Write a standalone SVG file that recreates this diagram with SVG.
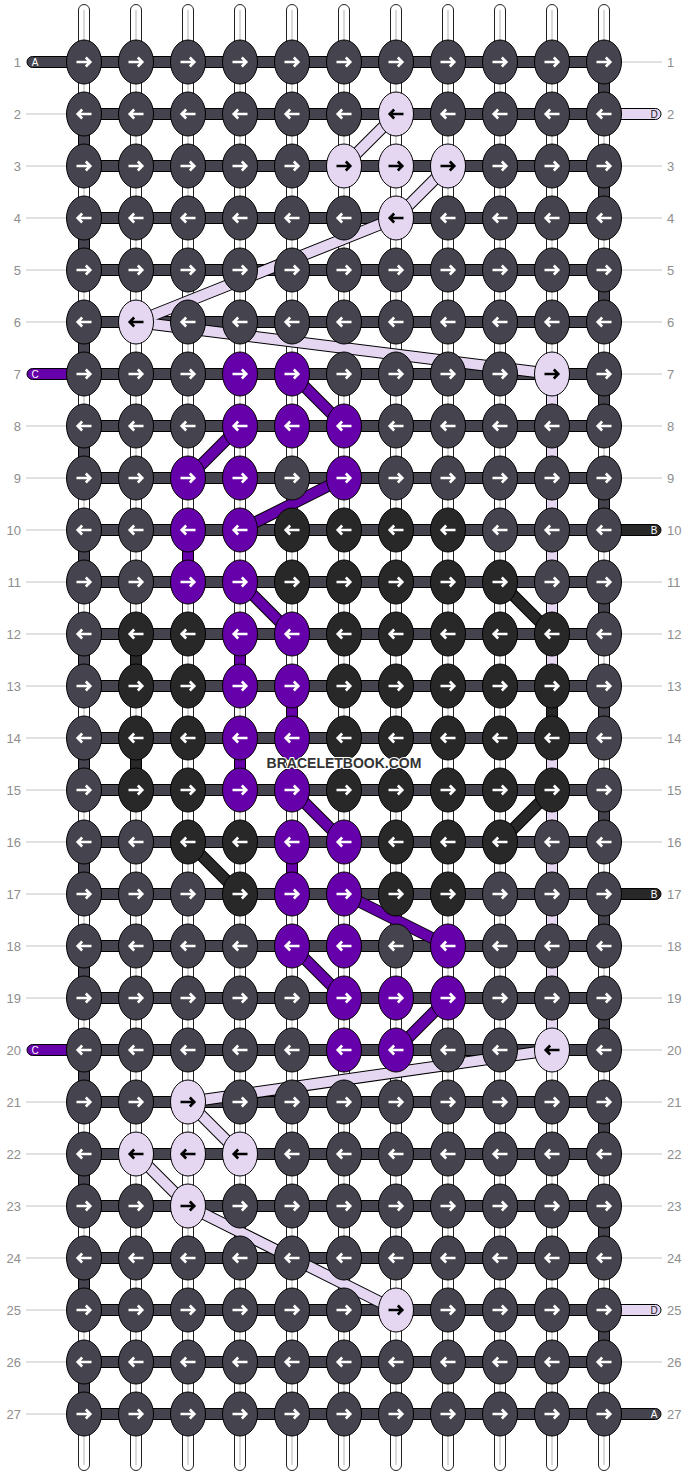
<svg xmlns="http://www.w3.org/2000/svg" xmlns:xlink="http://www.w3.org/1999/xlink" width="688" height="1476" viewBox="0 0 688 1476">
<style>
.a{fill:#45444e}.l{fill:#e5d7f1}.p{fill:#6600aa}.b{fill:#282828}
ellipse{stroke:#000;stroke-width:1}
.str{fill:#fff;stroke:#222;stroke-width:1}
.mid{stroke:#b4b4b4;stroke-width:1}
.seg{stroke:#000;stroke-width:1}
.gl{stroke:#c4c4c4;stroke-width:1}
.lbl{font-family:"Liberation Sans",Arial,sans-serif;font-size:13px;fill:#8e8e8e}
.end{font-family:"Liberation Sans",Arial,sans-serif;font-size:10px;text-anchor:middle}
.bo{stroke:#000;stroke-width:12;stroke-linecap:butt}
.bl{stroke:#e5d7f1;stroke-width:10}
.bp{stroke:#6600aa;stroke-width:10}
.bb{stroke:#282828;stroke-width:10}
.wm{font-family:"Liberation Sans",Arial,sans-serif;font-size:14px;font-weight:bold;fill:#333;stroke:#fff;stroke-width:2;paint-order:stroke;text-anchor:middle}
</style>
<defs>
<path id="R" d="M-7.5 0H6M1.8-4.5L6.3 0L1.8 4.5" fill="none" stroke="#fff" stroke-width="2.6"/>
<path id="L" d="M7.5 0H-6M-1.8-4.5L-6.3 0L-1.8 4.5" fill="none" stroke="#fff" stroke-width="2.6"/>
<path id="Rk" d="M-7.5 0H6M1.8-4.5L6.3 0L1.8 4.5" fill="none" stroke="#000" stroke-width="2.6"/>
<path id="Lk" d="M7.5 0H-6M-1.8-4.5L-6.3 0L-1.8 4.5" fill="none" stroke="#000" stroke-width="2.6"/>
</defs>
<rect width="688" height="1476" fill="#fff"/>
<g id="labels">
<g class="gl">
<line x1="26" y1="114" x2="68" y2="114"/><line x1="26" y1="166" x2="68" y2="166"/><line x1="26" y1="218" x2="68" y2="218"/><line x1="26" y1="270" x2="68" y2="270"/><line x1="26" y1="322" x2="68" y2="322"/><line x1="26" y1="426" x2="68" y2="426"/><line x1="26" y1="478" x2="68" y2="478"/><line x1="26" y1="530" x2="68" y2="530"/><line x1="26" y1="582" x2="68" y2="582"/><line x1="26" y1="634" x2="68" y2="634"/><line x1="26" y1="686" x2="68" y2="686"/><line x1="26" y1="738" x2="68" y2="738"/><line x1="26" y1="790" x2="68" y2="790"/><line x1="26" y1="842" x2="68" y2="842"/><line x1="26" y1="894" x2="68" y2="894"/><line x1="26" y1="946" x2="68" y2="946"/><line x1="26" y1="998" x2="68" y2="998"/><line x1="26" y1="1102" x2="68" y2="1102"/><line x1="26" y1="1154" x2="68" y2="1154"/><line x1="26" y1="1206" x2="68" y2="1206"/><line x1="26" y1="1258" x2="68" y2="1258"/><line x1="26" y1="1310" x2="68" y2="1310"/><line x1="26" y1="1362" x2="68" y2="1362"/><line x1="26" y1="1414" x2="68" y2="1414"/>
<line x1="620" y1="62" x2="662" y2="62"/><line x1="620" y1="166" x2="662" y2="166"/><line x1="620" y1="218" x2="662" y2="218"/><line x1="620" y1="270" x2="662" y2="270"/><line x1="620" y1="322" x2="662" y2="322"/><line x1="620" y1="374" x2="662" y2="374"/><line x1="620" y1="426" x2="662" y2="426"/><line x1="620" y1="478" x2="662" y2="478"/><line x1="620" y1="582" x2="662" y2="582"/><line x1="620" y1="634" x2="662" y2="634"/><line x1="620" y1="686" x2="662" y2="686"/><line x1="620" y1="738" x2="662" y2="738"/><line x1="620" y1="790" x2="662" y2="790"/><line x1="620" y1="842" x2="662" y2="842"/><line x1="620" y1="946" x2="662" y2="946"/><line x1="620" y1="998" x2="662" y2="998"/><line x1="620" y1="1050" x2="662" y2="1050"/><line x1="620" y1="1102" x2="662" y2="1102"/><line x1="620" y1="1154" x2="662" y2="1154"/><line x1="620" y1="1206" x2="662" y2="1206"/><line x1="620" y1="1258" x2="662" y2="1258"/><line x1="620" y1="1362" x2="662" y2="1362"/>
</g>
<g class="lbl" text-anchor="end">
<text x="21" y="66.5">1</text><text x="21" y="118.5">2</text><text x="21" y="170.5">3</text><text x="21" y="222.5">4</text><text x="21" y="274.5">5</text><text x="21" y="326.5">6</text><text x="21" y="378.5">7</text><text x="21" y="430.5">8</text><text x="21" y="482.5">9</text><text x="21" y="534.5">10</text><text x="21" y="586.5">11</text><text x="21" y="638.5">12</text><text x="21" y="690.5">13</text><text x="21" y="742.5">14</text><text x="21" y="794.5">15</text><text x="21" y="846.5">16</text><text x="21" y="898.5">17</text><text x="21" y="950.5">18</text><text x="21" y="1002.5">19</text><text x="21" y="1054.5">20</text><text x="21" y="1106.5">21</text><text x="21" y="1158.5">22</text><text x="21" y="1210.5">23</text><text x="21" y="1262.5">24</text><text x="21" y="1314.5">25</text><text x="21" y="1366.5">26</text><text x="21" y="1418.5">27</text>
</g>
<g class="lbl">
<text x="667" y="66.5">1</text><text x="667" y="118.5">2</text><text x="667" y="170.5">3</text><text x="667" y="222.5">4</text><text x="667" y="274.5">5</text><text x="667" y="326.5">6</text><text x="667" y="378.5">7</text><text x="667" y="430.5">8</text><text x="667" y="482.5">9</text><text x="667" y="534.5">10</text><text x="667" y="586.5">11</text><text x="667" y="638.5">12</text><text x="667" y="690.5">13</text><text x="667" y="742.5">14</text><text x="667" y="794.5">15</text><text x="667" y="846.5">16</text><text x="667" y="898.5">17</text><text x="667" y="950.5">18</text><text x="667" y="1002.5">19</text><text x="667" y="1054.5">20</text><text x="667" y="1106.5">21</text><text x="667" y="1158.5">22</text><text x="667" y="1210.5">23</text><text x="667" y="1262.5">24</text><text x="667" y="1314.5">25</text><text x="667" y="1366.5">26</text><text x="667" y="1418.5">27</text>
</g>
</g>
<g id="connectors">
<g id="strings">
<rect class="str" x="78.5" y="4.5" width="11" height="1466" rx="5.5"/><rect class="str" x="130.5" y="4.5" width="11" height="1466" rx="5.5"/><rect class="str" x="182.5" y="4.5" width="11" height="1466" rx="5.5"/><rect class="str" x="234.5" y="4.5" width="11" height="1466" rx="5.5"/><rect class="str" x="286.5" y="4.5" width="11" height="1466" rx="5.5"/><rect class="str" x="338.5" y="4.5" width="11" height="1466" rx="5.5"/><rect class="str" x="390.5" y="4.5" width="11" height="1466" rx="5.5"/><rect class="str" x="442.5" y="4.5" width="11" height="1466" rx="5.5"/><rect class="str" x="494.5" y="4.5" width="11" height="1466" rx="5.5"/><rect class="str" x="546.5" y="4.5" width="11" height="1466" rx="5.5"/><rect class="str" x="598.5" y="4.5" width="11" height="1466" rx="5.5"/>
<g class="mid"><line x1="84" y1="10" x2="84" y2="1465"/><line x1="136" y1="10" x2="136" y2="1465"/><line x1="188" y1="10" x2="188" y2="1465"/><line x1="240" y1="10" x2="240" y2="1465"/><line x1="292" y1="10" x2="292" y2="1465"/><line x1="344" y1="10" x2="344" y2="1465"/><line x1="396" y1="10" x2="396" y2="1465"/><line x1="448" y1="10" x2="448" y2="1465"/><line x1="500" y1="10" x2="500" y2="1465"/><line x1="552" y1="10" x2="552" y2="1465"/><line x1="604" y1="10" x2="604" y2="1465"/></g>
</g>
<g id="rowthreads" class="seg a">
<rect x="84" y="56.5" width="520" height="11"/><rect x="84" y="108.5" width="520" height="11"/><rect x="84" y="160.5" width="520" height="11"/><rect x="84" y="212.5" width="520" height="11"/><rect x="84" y="264.5" width="520" height="11"/><rect x="84" y="316.5" width="520" height="11"/><rect x="84" y="368.5" width="520" height="11"/><rect x="84" y="420.5" width="520" height="11"/><rect x="84" y="472.5" width="520" height="11"/><rect x="84" y="524.5" width="520" height="11"/><rect x="84" y="576.5" width="520" height="11"/><rect x="84" y="628.5" width="520" height="11"/><rect x="84" y="680.5" width="520" height="11"/><rect x="84" y="732.5" width="520" height="11"/><rect x="84" y="784.5" width="520" height="11"/><rect x="84" y="836.5" width="520" height="11"/><rect x="84" y="888.5" width="520" height="11"/><rect x="84" y="940.5" width="520" height="11"/><rect x="84" y="992.5" width="520" height="11"/><rect x="84" y="1044.5" width="520" height="11"/><rect x="84" y="1096.5" width="520" height="11"/><rect x="84" y="1148.5" width="520" height="11"/><rect x="84" y="1200.5" width="520" height="11"/><rect x="84" y="1252.5" width="520" height="11"/><rect x="84" y="1304.5" width="520" height="11"/><rect x="84" y="1356.5" width="520" height="11"/><rect x="84" y="1408.5" width="520" height="11"/>
</g>
<g id="edges" class="seg a">
<rect x="78.5" y="114" width="11" height="52"/><rect x="78.5" y="218" width="11" height="52"/><rect x="78.5" y="322" width="11" height="52"/><rect x="78.5" y="426" width="11" height="52"/><rect x="78.5" y="530" width="11" height="52"/><rect x="78.5" y="634" width="11" height="52"/><rect x="78.5" y="738" width="11" height="52"/><rect x="78.5" y="842" width="11" height="52"/><rect x="78.5" y="946" width="11" height="52"/><rect x="78.5" y="1050" width="11" height="52"/><rect x="78.5" y="1154" width="11" height="52"/><rect x="78.5" y="1258" width="11" height="52"/><rect x="78.5" y="1362" width="11" height="52"/>
<rect x="598.5" y="62" width="11" height="52"/><rect x="598.5" y="166" width="11" height="52"/><rect x="598.5" y="270" width="11" height="52"/><rect x="598.5" y="374" width="11" height="52"/><rect x="598.5" y="478" width="11" height="52"/><rect x="598.5" y="582" width="11" height="52"/><rect x="598.5" y="686" width="11" height="52"/><rect x="598.5" y="790" width="11" height="52"/><rect x="598.5" y="894" width="11" height="52"/><rect x="598.5" y="998" width="11" height="52"/><rect x="598.5" y="1102" width="11" height="52"/><rect x="598.5" y="1206" width="11" height="52"/><rect x="598.5" y="1310" width="11" height="52"/>
</g>
<g id="carried" class="seg">
<rect class="l" x="546.5" y="374" width="11" height="312"/><rect class="b" x="546.5" y="686" width="11" height="52"/><rect class="l" x="546.5" y="738" width="11" height="312"/>
<rect class="b" x="130.5" y="634" width="11" height="52"/><rect class="b" x="130.5" y="738" width="11" height="52"/>
<rect class="p" x="182.5" y="530" width="11" height="52"/><rect class="p" x="234.5" y="634" width="11" height="52"/><rect class="p" x="234.5" y="738" width="11" height="52"/><rect class="p" x="286.5" y="686" width="11" height="52"/><rect class="p" x="286.5" y="842" width="11" height="52"/>
</g>
<g id="ends" class="seg">
<path class="a" d="M84 56.5H32.5a5.5 5.5 0 0 0 0 11H84Z"/>
<path class="p" d="M84 368.5H32.5a5.5 5.5 0 0 0 0 11H84Z"/>
<path class="p" d="M84 1044.5H32.5a5.5 5.5 0 0 0 0 11H84Z"/>
<path class="l" d="M604 108.5H655.5a5.5 5.5 0 0 1 0 11H604Z"/>
<path class="b" d="M604 524.5H655.5a5.5 5.5 0 0 1 0 11H604Z"/>
<path class="b" d="M604 888.5H655.5a5.5 5.5 0 0 1 0 11H604Z"/>
<path class="l" d="M604 1304.5H655.5a5.5 5.5 0 0 1 0 11H604Z"/>
<path class="a" d="M604 1408.5H655.5a5.5 5.5 0 0 1 0 11H604Z"/>
</g>
<g class="end">
<text x="35" y="65.6" fill="#fff">A</text>
<text x="35" y="377.6" fill="#fff">C</text>
<text x="35" y="1053.6" fill="#fff">C</text>
<text x="654" y="117.6" fill="#222">D</text>
<text x="654" y="533.6" fill="#fff">B</text>
<text x="654" y="897.6" fill="#fff">B</text>
<text x="654" y="1313.6" fill="#222">D</text>
<text x="654" y="1417.6" fill="#fff">A</text>
</g>
<g id="bands">
<g class="bo">
<line x1="396" y1="114" x2="344" y2="166"/><line x1="448" y1="166" x2="396" y2="218"/><line x1="396" y1="218" x2="136" y2="322"/><line x1="136" y1="322" x2="552" y2="374"/><line x1="552" y1="1050" x2="188" y2="1102"/><line x1="188" y1="1102" x2="240" y2="1154"/><line x1="136" y1="1154" x2="188" y2="1206"/><line x1="188" y1="1206" x2="396" y2="1310"/>
<line x1="292" y1="374" x2="344" y2="426"/><line x1="240" y1="426" x2="188" y2="478"/><line x1="344" y1="478" x2="240" y2="530"/><line x1="240" y1="582" x2="292" y2="634"/><line x1="292" y1="790" x2="344" y2="842"/><line x1="344" y1="894" x2="448" y2="946"/><line x1="292" y1="946" x2="344" y2="998"/><line x1="448" y1="998" x2="396" y2="1050"/>
<line x1="500" y1="582" x2="552" y2="634"/><line x1="552" y1="790" x2="500" y2="842"/><line x1="188" y1="842" x2="240" y2="894"/>
</g>
<g class="bl">
<line x1="396" y1="114" x2="344" y2="166"/><line x1="448" y1="166" x2="396" y2="218"/><line x1="396" y1="218" x2="136" y2="322"/><line x1="136" y1="322" x2="552" y2="374"/><line x1="552" y1="1050" x2="188" y2="1102"/><line x1="188" y1="1102" x2="240" y2="1154"/><line x1="136" y1="1154" x2="188" y2="1206"/><line x1="188" y1="1206" x2="396" y2="1310"/>
</g>
<g class="bp">
<line x1="292" y1="374" x2="344" y2="426"/><line x1="240" y1="426" x2="188" y2="478"/><line x1="344" y1="478" x2="240" y2="530"/><line x1="240" y1="582" x2="292" y2="634"/><line x1="292" y1="790" x2="344" y2="842"/><line x1="344" y1="894" x2="448" y2="946"/><line x1="292" y1="946" x2="344" y2="998"/><line x1="448" y1="998" x2="396" y2="1050"/>
</g>
<g class="bb">
<line x1="500" y1="582" x2="552" y2="634"/><line x1="552" y1="790" x2="500" y2="842"/><line x1="188" y1="842" x2="240" y2="894"/>
</g>
</g>
</g>
<g id="knots">
<g id="row1" transform="translate(0,62)">
<g id="n1-1"><ellipse class="a" cx="84" rx="17.5" ry="22"/><use href="#R" x="84"/></g><g id="n1-2"><ellipse class="a" cx="136" rx="17.5" ry="22"/><use href="#R" x="136"/></g><g id="n1-3"><ellipse class="a" cx="188" rx="17.5" ry="22"/><use href="#R" x="188"/></g><g id="n1-4"><ellipse class="a" cx="240" rx="17.5" ry="22"/><use href="#R" x="240"/></g><g id="n1-5"><ellipse class="a" cx="292" rx="17.5" ry="22"/><use href="#R" x="292"/></g><g id="n1-6"><ellipse class="a" cx="344" rx="17.5" ry="22"/><use href="#R" x="344"/></g><g id="n1-7"><ellipse class="a" cx="396" rx="17.5" ry="22"/><use href="#R" x="396"/></g><g id="n1-8"><ellipse class="a" cx="448" rx="17.5" ry="22"/><use href="#R" x="448"/></g><g id="n1-9"><ellipse class="a" cx="500" rx="17.5" ry="22"/><use href="#R" x="500"/></g><g id="n1-10"><ellipse class="a" cx="552" rx="17.5" ry="22"/><use href="#R" x="552"/></g><g id="n1-11"><ellipse class="a" cx="604" rx="17.5" ry="22"/><use href="#R" x="604"/></g>
</g>
<g id="row2" transform="translate(0,114)">
<g id="n2-1"><ellipse class="a" cx="84" rx="17.5" ry="22"/><use href="#L" x="84"/></g><g id="n2-2"><ellipse class="a" cx="136" rx="17.5" ry="22"/><use href="#L" x="136"/></g><g id="n2-3"><ellipse class="a" cx="188" rx="17.5" ry="22"/><use href="#L" x="188"/></g><g id="n2-4"><ellipse class="a" cx="240" rx="17.5" ry="22"/><use href="#L" x="240"/></g><g id="n2-5"><ellipse class="a" cx="292" rx="17.5" ry="22"/><use href="#L" x="292"/></g><g id="n2-6"><ellipse class="a" cx="344" rx="17.5" ry="22"/><use href="#L" x="344"/></g><g id="n2-7"><ellipse class="l" cx="396" rx="17.5" ry="22"/><use href="#Lk" x="396"/></g><g id="n2-8"><ellipse class="a" cx="448" rx="17.5" ry="22"/><use href="#L" x="448"/></g><g id="n2-9"><ellipse class="a" cx="500" rx="17.5" ry="22"/><use href="#L" x="500"/></g><g id="n2-10"><ellipse class="a" cx="552" rx="17.5" ry="22"/><use href="#L" x="552"/></g><g id="n2-11"><ellipse class="a" cx="604" rx="17.5" ry="22"/><use href="#L" x="604"/></g>
</g>
<g id="row3" transform="translate(0,166)">
<g id="n3-1"><ellipse class="a" cx="84" rx="17.5" ry="22"/><use href="#R" x="84"/></g><g id="n3-2"><ellipse class="a" cx="136" rx="17.5" ry="22"/><use href="#R" x="136"/></g><g id="n3-3"><ellipse class="a" cx="188" rx="17.5" ry="22"/><use href="#R" x="188"/></g><g id="n3-4"><ellipse class="a" cx="240" rx="17.5" ry="22"/><use href="#R" x="240"/></g><g id="n3-5"><ellipse class="a" cx="292" rx="17.5" ry="22"/><use href="#R" x="292"/></g><g id="n3-6"><ellipse class="l" cx="344" rx="17.5" ry="22"/><use href="#Rk" x="344"/></g><g id="n3-7"><ellipse class="l" cx="396" rx="17.5" ry="22"/><use href="#Rk" x="396"/></g><g id="n3-8"><ellipse class="l" cx="448" rx="17.5" ry="22"/><use href="#Rk" x="448"/></g><g id="n3-9"><ellipse class="a" cx="500" rx="17.5" ry="22"/><use href="#R" x="500"/></g><g id="n3-10"><ellipse class="a" cx="552" rx="17.5" ry="22"/><use href="#R" x="552"/></g><g id="n3-11"><ellipse class="a" cx="604" rx="17.5" ry="22"/><use href="#R" x="604"/></g>
</g>
<g id="row4" transform="translate(0,218)">
<g id="n4-1"><ellipse class="a" cx="84" rx="17.5" ry="22"/><use href="#L" x="84"/></g><g id="n4-2"><ellipse class="a" cx="136" rx="17.5" ry="22"/><use href="#L" x="136"/></g><g id="n4-3"><ellipse class="a" cx="188" rx="17.5" ry="22"/><use href="#L" x="188"/></g><g id="n4-4"><ellipse class="a" cx="240" rx="17.5" ry="22"/><use href="#L" x="240"/></g><g id="n4-5"><ellipse class="a" cx="292" rx="17.5" ry="22"/><use href="#L" x="292"/></g><g id="n4-6"><ellipse class="a" cx="344" rx="17.5" ry="22"/><use href="#L" x="344"/></g><g id="n4-7"><ellipse class="l" cx="396" rx="17.5" ry="22"/><use href="#Lk" x="396"/></g><g id="n4-8"><ellipse class="a" cx="448" rx="17.5" ry="22"/><use href="#L" x="448"/></g><g id="n4-9"><ellipse class="a" cx="500" rx="17.5" ry="22"/><use href="#L" x="500"/></g><g id="n4-10"><ellipse class="a" cx="552" rx="17.5" ry="22"/><use href="#L" x="552"/></g><g id="n4-11"><ellipse class="a" cx="604" rx="17.5" ry="22"/><use href="#L" x="604"/></g>
</g>
<g id="row5" transform="translate(0,270)">
<g id="n5-1"><ellipse class="a" cx="84" rx="17.5" ry="22"/><use href="#R" x="84"/></g><g id="n5-2"><ellipse class="a" cx="136" rx="17.5" ry="22"/><use href="#R" x="136"/></g><g id="n5-3"><ellipse class="a" cx="188" rx="17.5" ry="22"/><use href="#R" x="188"/></g><g id="n5-4"><ellipse class="a" cx="240" rx="17.5" ry="22"/><use href="#R" x="240"/></g><g id="n5-5"><ellipse class="a" cx="292" rx="17.5" ry="22"/><use href="#R" x="292"/></g><g id="n5-6"><ellipse class="a" cx="344" rx="17.5" ry="22"/><use href="#R" x="344"/></g><g id="n5-7"><ellipse class="a" cx="396" rx="17.5" ry="22"/><use href="#R" x="396"/></g><g id="n5-8"><ellipse class="a" cx="448" rx="17.5" ry="22"/><use href="#R" x="448"/></g><g id="n5-9"><ellipse class="a" cx="500" rx="17.5" ry="22"/><use href="#R" x="500"/></g><g id="n5-10"><ellipse class="a" cx="552" rx="17.5" ry="22"/><use href="#R" x="552"/></g><g id="n5-11"><ellipse class="a" cx="604" rx="17.5" ry="22"/><use href="#R" x="604"/></g>
</g>
<g id="row6" transform="translate(0,322)">
<g id="n6-1"><ellipse class="a" cx="84" rx="17.5" ry="22"/><use href="#L" x="84"/></g><g id="n6-2"><ellipse class="l" cx="136" rx="17.5" ry="22"/><use href="#Lk" x="136"/></g><g id="n6-3"><ellipse class="a" cx="188" rx="17.5" ry="22"/><use href="#L" x="188"/></g><g id="n6-4"><ellipse class="a" cx="240" rx="17.5" ry="22"/><use href="#L" x="240"/></g><g id="n6-5"><ellipse class="a" cx="292" rx="17.5" ry="22"/><use href="#L" x="292"/></g><g id="n6-6"><ellipse class="a" cx="344" rx="17.5" ry="22"/><use href="#L" x="344"/></g><g id="n6-7"><ellipse class="a" cx="396" rx="17.5" ry="22"/><use href="#L" x="396"/></g><g id="n6-8"><ellipse class="a" cx="448" rx="17.5" ry="22"/><use href="#L" x="448"/></g><g id="n6-9"><ellipse class="a" cx="500" rx="17.5" ry="22"/><use href="#L" x="500"/></g><g id="n6-10"><ellipse class="a" cx="552" rx="17.5" ry="22"/><use href="#L" x="552"/></g><g id="n6-11"><ellipse class="a" cx="604" rx="17.5" ry="22"/><use href="#L" x="604"/></g>
</g>
<g id="row7" transform="translate(0,374)">
<g id="n7-1"><ellipse class="a" cx="84" rx="17.5" ry="22"/><use href="#R" x="84"/></g><g id="n7-2"><ellipse class="a" cx="136" rx="17.5" ry="22"/><use href="#R" x="136"/></g><g id="n7-3"><ellipse class="a" cx="188" rx="17.5" ry="22"/><use href="#R" x="188"/></g><g id="n7-4"><ellipse class="p" cx="240" rx="17.5" ry="22"/><use href="#R" x="240"/></g><g id="n7-5"><ellipse class="p" cx="292" rx="17.5" ry="22"/><use href="#R" x="292"/></g><g id="n7-6"><ellipse class="a" cx="344" rx="17.5" ry="22"/><use href="#R" x="344"/></g><g id="n7-7"><ellipse class="a" cx="396" rx="17.5" ry="22"/><use href="#R" x="396"/></g><g id="n7-8"><ellipse class="a" cx="448" rx="17.5" ry="22"/><use href="#R" x="448"/></g><g id="n7-9"><ellipse class="a" cx="500" rx="17.5" ry="22"/><use href="#R" x="500"/></g><g id="n7-10"><ellipse class="l" cx="552" rx="17.5" ry="22"/><use href="#Rk" x="552"/></g><g id="n7-11"><ellipse class="a" cx="604" rx="17.5" ry="22"/><use href="#R" x="604"/></g>
</g>
<g id="row8" transform="translate(0,426)">
<g id="n8-1"><ellipse class="a" cx="84" rx="17.5" ry="22"/><use href="#L" x="84"/></g><g id="n8-2"><ellipse class="a" cx="136" rx="17.5" ry="22"/><use href="#L" x="136"/></g><g id="n8-3"><ellipse class="a" cx="188" rx="17.5" ry="22"/><use href="#L" x="188"/></g><g id="n8-4"><ellipse class="p" cx="240" rx="17.5" ry="22"/><use href="#L" x="240"/></g><g id="n8-5"><ellipse class="p" cx="292" rx="17.5" ry="22"/><use href="#L" x="292"/></g><g id="n8-6"><ellipse class="p" cx="344" rx="17.5" ry="22"/><use href="#L" x="344"/></g><g id="n8-7"><ellipse class="a" cx="396" rx="17.5" ry="22"/><use href="#L" x="396"/></g><g id="n8-8"><ellipse class="a" cx="448" rx="17.5" ry="22"/><use href="#L" x="448"/></g><g id="n8-9"><ellipse class="a" cx="500" rx="17.5" ry="22"/><use href="#L" x="500"/></g><g id="n8-10"><ellipse class="a" cx="552" rx="17.5" ry="22"/><use href="#L" x="552"/></g><g id="n8-11"><ellipse class="a" cx="604" rx="17.5" ry="22"/><use href="#L" x="604"/></g>
</g>
<g id="row9" transform="translate(0,478)">
<g id="n9-1"><ellipse class="a" cx="84" rx="17.5" ry="22"/><use href="#R" x="84"/></g><g id="n9-2"><ellipse class="a" cx="136" rx="17.5" ry="22"/><use href="#R" x="136"/></g><g id="n9-3"><ellipse class="p" cx="188" rx="17.5" ry="22"/><use href="#R" x="188"/></g><g id="n9-4"><ellipse class="p" cx="240" rx="17.5" ry="22"/><use href="#R" x="240"/></g><g id="n9-5"><ellipse class="a" cx="292" rx="17.5" ry="22"/><use href="#R" x="292"/></g><g id="n9-6"><ellipse class="p" cx="344" rx="17.5" ry="22"/><use href="#R" x="344"/></g><g id="n9-7"><ellipse class="a" cx="396" rx="17.5" ry="22"/><use href="#R" x="396"/></g><g id="n9-8"><ellipse class="a" cx="448" rx="17.5" ry="22"/><use href="#R" x="448"/></g><g id="n9-9"><ellipse class="a" cx="500" rx="17.5" ry="22"/><use href="#R" x="500"/></g><g id="n9-10"><ellipse class="a" cx="552" rx="17.5" ry="22"/><use href="#R" x="552"/></g><g id="n9-11"><ellipse class="a" cx="604" rx="17.5" ry="22"/><use href="#R" x="604"/></g>
</g>
<g id="row10" transform="translate(0,530)">
<g id="n10-1"><ellipse class="a" cx="84" rx="17.5" ry="22"/><use href="#L" x="84"/></g><g id="n10-2"><ellipse class="a" cx="136" rx="17.5" ry="22"/><use href="#L" x="136"/></g><g id="n10-3"><ellipse class="p" cx="188" rx="17.5" ry="22"/><use href="#L" x="188"/></g><g id="n10-4"><ellipse class="p" cx="240" rx="17.5" ry="22"/><use href="#L" x="240"/></g><g id="n10-5"><ellipse class="b" cx="292" rx="17.5" ry="22"/><use href="#L" x="292"/></g><g id="n10-6"><ellipse class="b" cx="344" rx="17.5" ry="22"/><use href="#L" x="344"/></g><g id="n10-7"><ellipse class="b" cx="396" rx="17.5" ry="22"/><use href="#L" x="396"/></g><g id="n10-8"><ellipse class="b" cx="448" rx="17.5" ry="22"/><use href="#L" x="448"/></g><g id="n10-9"><ellipse class="a" cx="500" rx="17.5" ry="22"/><use href="#L" x="500"/></g><g id="n10-10"><ellipse class="a" cx="552" rx="17.5" ry="22"/><use href="#L" x="552"/></g><g id="n10-11"><ellipse class="a" cx="604" rx="17.5" ry="22"/><use href="#L" x="604"/></g>
</g>
<g id="row11" transform="translate(0,582)">
<g id="n11-1"><ellipse class="a" cx="84" rx="17.5" ry="22"/><use href="#R" x="84"/></g><g id="n11-2"><ellipse class="a" cx="136" rx="17.5" ry="22"/><use href="#R" x="136"/></g><g id="n11-3"><ellipse class="p" cx="188" rx="17.5" ry="22"/><use href="#R" x="188"/></g><g id="n11-4"><ellipse class="p" cx="240" rx="17.5" ry="22"/><use href="#R" x="240"/></g><g id="n11-5"><ellipse class="b" cx="292" rx="17.5" ry="22"/><use href="#R" x="292"/></g><g id="n11-6"><ellipse class="b" cx="344" rx="17.5" ry="22"/><use href="#R" x="344"/></g><g id="n11-7"><ellipse class="b" cx="396" rx="17.5" ry="22"/><use href="#R" x="396"/></g><g id="n11-8"><ellipse class="b" cx="448" rx="17.5" ry="22"/><use href="#R" x="448"/></g><g id="n11-9"><ellipse class="b" cx="500" rx="17.5" ry="22"/><use href="#R" x="500"/></g><g id="n11-10"><ellipse class="a" cx="552" rx="17.5" ry="22"/><use href="#R" x="552"/></g><g id="n11-11"><ellipse class="a" cx="604" rx="17.5" ry="22"/><use href="#R" x="604"/></g>
</g>
<g id="row12" transform="translate(0,634)">
<g id="n12-1"><ellipse class="a" cx="84" rx="17.5" ry="22"/><use href="#L" x="84"/></g><g id="n12-2"><ellipse class="b" cx="136" rx="17.5" ry="22"/><use href="#L" x="136"/></g><g id="n12-3"><ellipse class="b" cx="188" rx="17.5" ry="22"/><use href="#L" x="188"/></g><g id="n12-4"><ellipse class="p" cx="240" rx="17.5" ry="22"/><use href="#L" x="240"/></g><g id="n12-5"><ellipse class="p" cx="292" rx="17.5" ry="22"/><use href="#L" x="292"/></g><g id="n12-6"><ellipse class="b" cx="344" rx="17.5" ry="22"/><use href="#L" x="344"/></g><g id="n12-7"><ellipse class="b" cx="396" rx="17.5" ry="22"/><use href="#L" x="396"/></g><g id="n12-8"><ellipse class="b" cx="448" rx="17.5" ry="22"/><use href="#L" x="448"/></g><g id="n12-9"><ellipse class="b" cx="500" rx="17.5" ry="22"/><use href="#L" x="500"/></g><g id="n12-10"><ellipse class="b" cx="552" rx="17.5" ry="22"/><use href="#L" x="552"/></g><g id="n12-11"><ellipse class="a" cx="604" rx="17.5" ry="22"/><use href="#L" x="604"/></g>
</g>
<g id="row13" transform="translate(0,686)">
<g id="n13-1"><ellipse class="a" cx="84" rx="17.5" ry="22"/><use href="#R" x="84"/></g><g id="n13-2"><ellipse class="b" cx="136" rx="17.5" ry="22"/><use href="#R" x="136"/></g><g id="n13-3"><ellipse class="b" cx="188" rx="17.5" ry="22"/><use href="#R" x="188"/></g><g id="n13-4"><ellipse class="p" cx="240" rx="17.5" ry="22"/><use href="#R" x="240"/></g><g id="n13-5"><ellipse class="p" cx="292" rx="17.5" ry="22"/><use href="#R" x="292"/></g><g id="n13-6"><ellipse class="b" cx="344" rx="17.5" ry="22"/><use href="#R" x="344"/></g><g id="n13-7"><ellipse class="b" cx="396" rx="17.5" ry="22"/><use href="#R" x="396"/></g><g id="n13-8"><ellipse class="b" cx="448" rx="17.5" ry="22"/><use href="#R" x="448"/></g><g id="n13-9"><ellipse class="b" cx="500" rx="17.5" ry="22"/><use href="#R" x="500"/></g><g id="n13-10"><ellipse class="b" cx="552" rx="17.5" ry="22"/><use href="#R" x="552"/></g><g id="n13-11"><ellipse class="a" cx="604" rx="17.5" ry="22"/><use href="#R" x="604"/></g>
</g>
<g id="row14" transform="translate(0,738)">
<g id="n14-1"><ellipse class="a" cx="84" rx="17.5" ry="22"/><use href="#L" x="84"/></g><g id="n14-2"><ellipse class="b" cx="136" rx="17.5" ry="22"/><use href="#L" x="136"/></g><g id="n14-3"><ellipse class="b" cx="188" rx="17.5" ry="22"/><use href="#L" x="188"/></g><g id="n14-4"><ellipse class="p" cx="240" rx="17.5" ry="22"/><use href="#L" x="240"/></g><g id="n14-5"><ellipse class="p" cx="292" rx="17.5" ry="22"/><use href="#L" x="292"/></g><g id="n14-6"><ellipse class="b" cx="344" rx="17.5" ry="22"/><use href="#L" x="344"/></g><g id="n14-7"><ellipse class="b" cx="396" rx="17.5" ry="22"/><use href="#L" x="396"/></g><g id="n14-8"><ellipse class="b" cx="448" rx="17.5" ry="22"/><use href="#L" x="448"/></g><g id="n14-9"><ellipse class="b" cx="500" rx="17.5" ry="22"/><use href="#L" x="500"/></g><g id="n14-10"><ellipse class="b" cx="552" rx="17.5" ry="22"/><use href="#L" x="552"/></g><g id="n14-11"><ellipse class="a" cx="604" rx="17.5" ry="22"/><use href="#L" x="604"/></g>
</g>
<g id="row15" transform="translate(0,790)">
<g id="n15-1"><ellipse class="a" cx="84" rx="17.5" ry="22"/><use href="#R" x="84"/></g><g id="n15-2"><ellipse class="b" cx="136" rx="17.5" ry="22"/><use href="#R" x="136"/></g><g id="n15-3"><ellipse class="b" cx="188" rx="17.5" ry="22"/><use href="#R" x="188"/></g><g id="n15-4"><ellipse class="p" cx="240" rx="17.5" ry="22"/><use href="#R" x="240"/></g><g id="n15-5"><ellipse class="p" cx="292" rx="17.5" ry="22"/><use href="#R" x="292"/></g><g id="n15-6"><ellipse class="b" cx="344" rx="17.5" ry="22"/><use href="#R" x="344"/></g><g id="n15-7"><ellipse class="b" cx="396" rx="17.5" ry="22"/><use href="#R" x="396"/></g><g id="n15-8"><ellipse class="b" cx="448" rx="17.5" ry="22"/><use href="#R" x="448"/></g><g id="n15-9"><ellipse class="b" cx="500" rx="17.5" ry="22"/><use href="#R" x="500"/></g><g id="n15-10"><ellipse class="b" cx="552" rx="17.5" ry="22"/><use href="#R" x="552"/></g><g id="n15-11"><ellipse class="a" cx="604" rx="17.5" ry="22"/><use href="#R" x="604"/></g>
</g>
<g id="row16" transform="translate(0,842)">
<g id="n16-1"><ellipse class="a" cx="84" rx="17.5" ry="22"/><use href="#L" x="84"/></g><g id="n16-2"><ellipse class="a" cx="136" rx="17.5" ry="22"/><use href="#L" x="136"/></g><g id="n16-3"><ellipse class="b" cx="188" rx="17.5" ry="22"/><use href="#L" x="188"/></g><g id="n16-4"><ellipse class="b" cx="240" rx="17.5" ry="22"/><use href="#L" x="240"/></g><g id="n16-5"><ellipse class="p" cx="292" rx="17.5" ry="22"/><use href="#L" x="292"/></g><g id="n16-6"><ellipse class="p" cx="344" rx="17.5" ry="22"/><use href="#L" x="344"/></g><g id="n16-7"><ellipse class="b" cx="396" rx="17.5" ry="22"/><use href="#L" x="396"/></g><g id="n16-8"><ellipse class="b" cx="448" rx="17.5" ry="22"/><use href="#L" x="448"/></g><g id="n16-9"><ellipse class="b" cx="500" rx="17.5" ry="22"/><use href="#L" x="500"/></g><g id="n16-10"><ellipse class="a" cx="552" rx="17.5" ry="22"/><use href="#L" x="552"/></g><g id="n16-11"><ellipse class="a" cx="604" rx="17.5" ry="22"/><use href="#L" x="604"/></g>
</g>
<g id="row17" transform="translate(0,894)">
<g id="n17-1"><ellipse class="a" cx="84" rx="17.5" ry="22"/><use href="#R" x="84"/></g><g id="n17-2"><ellipse class="a" cx="136" rx="17.5" ry="22"/><use href="#R" x="136"/></g><g id="n17-3"><ellipse class="a" cx="188" rx="17.5" ry="22"/><use href="#R" x="188"/></g><g id="n17-4"><ellipse class="b" cx="240" rx="17.5" ry="22"/><use href="#R" x="240"/></g><g id="n17-5"><ellipse class="p" cx="292" rx="17.5" ry="22"/><use href="#R" x="292"/></g><g id="n17-6"><ellipse class="p" cx="344" rx="17.5" ry="22"/><use href="#R" x="344"/></g><g id="n17-7"><ellipse class="b" cx="396" rx="17.5" ry="22"/><use href="#R" x="396"/></g><g id="n17-8"><ellipse class="b" cx="448" rx="17.5" ry="22"/><use href="#R" x="448"/></g><g id="n17-9"><ellipse class="a" cx="500" rx="17.5" ry="22"/><use href="#R" x="500"/></g><g id="n17-10"><ellipse class="a" cx="552" rx="17.5" ry="22"/><use href="#R" x="552"/></g><g id="n17-11"><ellipse class="a" cx="604" rx="17.5" ry="22"/><use href="#R" x="604"/></g>
</g>
<g id="row18" transform="translate(0,946)">
<g id="n18-1"><ellipse class="a" cx="84" rx="17.5" ry="22"/><use href="#L" x="84"/></g><g id="n18-2"><ellipse class="a" cx="136" rx="17.5" ry="22"/><use href="#L" x="136"/></g><g id="n18-3"><ellipse class="a" cx="188" rx="17.5" ry="22"/><use href="#L" x="188"/></g><g id="n18-4"><ellipse class="a" cx="240" rx="17.5" ry="22"/><use href="#L" x="240"/></g><g id="n18-5"><ellipse class="p" cx="292" rx="17.5" ry="22"/><use href="#L" x="292"/></g><g id="n18-6"><ellipse class="p" cx="344" rx="17.5" ry="22"/><use href="#L" x="344"/></g><g id="n18-7"><ellipse class="a" cx="396" rx="17.5" ry="22"/><use href="#L" x="396"/></g><g id="n18-8"><ellipse class="p" cx="448" rx="17.5" ry="22"/><use href="#L" x="448"/></g><g id="n18-9"><ellipse class="a" cx="500" rx="17.5" ry="22"/><use href="#L" x="500"/></g><g id="n18-10"><ellipse class="a" cx="552" rx="17.5" ry="22"/><use href="#L" x="552"/></g><g id="n18-11"><ellipse class="a" cx="604" rx="17.5" ry="22"/><use href="#L" x="604"/></g>
</g>
<g id="row19" transform="translate(0,998)">
<g id="n19-1"><ellipse class="a" cx="84" rx="17.5" ry="22"/><use href="#R" x="84"/></g><g id="n19-2"><ellipse class="a" cx="136" rx="17.5" ry="22"/><use href="#R" x="136"/></g><g id="n19-3"><ellipse class="a" cx="188" rx="17.5" ry="22"/><use href="#R" x="188"/></g><g id="n19-4"><ellipse class="a" cx="240" rx="17.5" ry="22"/><use href="#R" x="240"/></g><g id="n19-5"><ellipse class="a" cx="292" rx="17.5" ry="22"/><use href="#R" x="292"/></g><g id="n19-6"><ellipse class="p" cx="344" rx="17.5" ry="22"/><use href="#R" x="344"/></g><g id="n19-7"><ellipse class="p" cx="396" rx="17.5" ry="22"/><use href="#R" x="396"/></g><g id="n19-8"><ellipse class="p" cx="448" rx="17.5" ry="22"/><use href="#R" x="448"/></g><g id="n19-9"><ellipse class="a" cx="500" rx="17.5" ry="22"/><use href="#R" x="500"/></g><g id="n19-10"><ellipse class="a" cx="552" rx="17.5" ry="22"/><use href="#R" x="552"/></g><g id="n19-11"><ellipse class="a" cx="604" rx="17.5" ry="22"/><use href="#R" x="604"/></g>
</g>
<g id="row20" transform="translate(0,1050)">
<g id="n20-1"><ellipse class="a" cx="84" rx="17.5" ry="22"/><use href="#L" x="84"/></g><g id="n20-2"><ellipse class="a" cx="136" rx="17.5" ry="22"/><use href="#L" x="136"/></g><g id="n20-3"><ellipse class="a" cx="188" rx="17.5" ry="22"/><use href="#L" x="188"/></g><g id="n20-4"><ellipse class="a" cx="240" rx="17.5" ry="22"/><use href="#L" x="240"/></g><g id="n20-5"><ellipse class="a" cx="292" rx="17.5" ry="22"/><use href="#L" x="292"/></g><g id="n20-6"><ellipse class="p" cx="344" rx="17.5" ry="22"/><use href="#L" x="344"/></g><g id="n20-7"><ellipse class="p" cx="396" rx="17.5" ry="22"/><use href="#L" x="396"/></g><g id="n20-8"><ellipse class="a" cx="448" rx="17.5" ry="22"/><use href="#L" x="448"/></g><g id="n20-9"><ellipse class="a" cx="500" rx="17.5" ry="22"/><use href="#L" x="500"/></g><g id="n20-10"><ellipse class="l" cx="552" rx="17.5" ry="22"/><use href="#Lk" x="552"/></g><g id="n20-11"><ellipse class="a" cx="604" rx="17.5" ry="22"/><use href="#L" x="604"/></g>
</g>
<g id="row21" transform="translate(0,1102)">
<g id="n21-1"><ellipse class="a" cx="84" rx="17.5" ry="22"/><use href="#R" x="84"/></g><g id="n21-2"><ellipse class="a" cx="136" rx="17.5" ry="22"/><use href="#R" x="136"/></g><g id="n21-3"><ellipse class="l" cx="188" rx="17.5" ry="22"/><use href="#Rk" x="188"/></g><g id="n21-4"><ellipse class="a" cx="240" rx="17.5" ry="22"/><use href="#R" x="240"/></g><g id="n21-5"><ellipse class="a" cx="292" rx="17.5" ry="22"/><use href="#R" x="292"/></g><g id="n21-6"><ellipse class="a" cx="344" rx="17.5" ry="22"/><use href="#R" x="344"/></g><g id="n21-7"><ellipse class="a" cx="396" rx="17.5" ry="22"/><use href="#R" x="396"/></g><g id="n21-8"><ellipse class="a" cx="448" rx="17.5" ry="22"/><use href="#R" x="448"/></g><g id="n21-9"><ellipse class="a" cx="500" rx="17.5" ry="22"/><use href="#R" x="500"/></g><g id="n21-10"><ellipse class="a" cx="552" rx="17.5" ry="22"/><use href="#R" x="552"/></g><g id="n21-11"><ellipse class="a" cx="604" rx="17.5" ry="22"/><use href="#R" x="604"/></g>
</g>
<g id="row22" transform="translate(0,1154)">
<g id="n22-1"><ellipse class="a" cx="84" rx="17.5" ry="22"/><use href="#L" x="84"/></g><g id="n22-2"><ellipse class="l" cx="136" rx="17.5" ry="22"/><use href="#Lk" x="136"/></g><g id="n22-3"><ellipse class="l" cx="188" rx="17.5" ry="22"/><use href="#Lk" x="188"/></g><g id="n22-4"><ellipse class="l" cx="240" rx="17.5" ry="22"/><use href="#Lk" x="240"/></g><g id="n22-5"><ellipse class="a" cx="292" rx="17.5" ry="22"/><use href="#L" x="292"/></g><g id="n22-6"><ellipse class="a" cx="344" rx="17.5" ry="22"/><use href="#L" x="344"/></g><g id="n22-7"><ellipse class="a" cx="396" rx="17.5" ry="22"/><use href="#L" x="396"/></g><g id="n22-8"><ellipse class="a" cx="448" rx="17.5" ry="22"/><use href="#L" x="448"/></g><g id="n22-9"><ellipse class="a" cx="500" rx="17.5" ry="22"/><use href="#L" x="500"/></g><g id="n22-10"><ellipse class="a" cx="552" rx="17.5" ry="22"/><use href="#L" x="552"/></g><g id="n22-11"><ellipse class="a" cx="604" rx="17.5" ry="22"/><use href="#L" x="604"/></g>
</g>
<g id="row23" transform="translate(0,1206)">
<g id="n23-1"><ellipse class="a" cx="84" rx="17.5" ry="22"/><use href="#R" x="84"/></g><g id="n23-2"><ellipse class="a" cx="136" rx="17.5" ry="22"/><use href="#R" x="136"/></g><g id="n23-3"><ellipse class="l" cx="188" rx="17.5" ry="22"/><use href="#Rk" x="188"/></g><g id="n23-4"><ellipse class="a" cx="240" rx="17.5" ry="22"/><use href="#R" x="240"/></g><g id="n23-5"><ellipse class="a" cx="292" rx="17.5" ry="22"/><use href="#R" x="292"/></g><g id="n23-6"><ellipse class="a" cx="344" rx="17.5" ry="22"/><use href="#R" x="344"/></g><g id="n23-7"><ellipse class="a" cx="396" rx="17.5" ry="22"/><use href="#R" x="396"/></g><g id="n23-8"><ellipse class="a" cx="448" rx="17.5" ry="22"/><use href="#R" x="448"/></g><g id="n23-9"><ellipse class="a" cx="500" rx="17.5" ry="22"/><use href="#R" x="500"/></g><g id="n23-10"><ellipse class="a" cx="552" rx="17.5" ry="22"/><use href="#R" x="552"/></g><g id="n23-11"><ellipse class="a" cx="604" rx="17.5" ry="22"/><use href="#R" x="604"/></g>
</g>
<g id="row24" transform="translate(0,1258)">
<g id="n24-1"><ellipse class="a" cx="84" rx="17.5" ry="22"/><use href="#L" x="84"/></g><g id="n24-2"><ellipse class="a" cx="136" rx="17.5" ry="22"/><use href="#L" x="136"/></g><g id="n24-3"><ellipse class="a" cx="188" rx="17.5" ry="22"/><use href="#L" x="188"/></g><g id="n24-4"><ellipse class="a" cx="240" rx="17.5" ry="22"/><use href="#L" x="240"/></g><g id="n24-5"><ellipse class="a" cx="292" rx="17.5" ry="22"/><use href="#L" x="292"/></g><g id="n24-6"><ellipse class="a" cx="344" rx="17.5" ry="22"/><use href="#L" x="344"/></g><g id="n24-7"><ellipse class="a" cx="396" rx="17.5" ry="22"/><use href="#L" x="396"/></g><g id="n24-8"><ellipse class="a" cx="448" rx="17.5" ry="22"/><use href="#L" x="448"/></g><g id="n24-9"><ellipse class="a" cx="500" rx="17.5" ry="22"/><use href="#L" x="500"/></g><g id="n24-10"><ellipse class="a" cx="552" rx="17.5" ry="22"/><use href="#L" x="552"/></g><g id="n24-11"><ellipse class="a" cx="604" rx="17.5" ry="22"/><use href="#L" x="604"/></g>
</g>
<g id="row25" transform="translate(0,1310)">
<g id="n25-1"><ellipse class="a" cx="84" rx="17.5" ry="22"/><use href="#R" x="84"/></g><g id="n25-2"><ellipse class="a" cx="136" rx="17.5" ry="22"/><use href="#R" x="136"/></g><g id="n25-3"><ellipse class="a" cx="188" rx="17.5" ry="22"/><use href="#R" x="188"/></g><g id="n25-4"><ellipse class="a" cx="240" rx="17.5" ry="22"/><use href="#R" x="240"/></g><g id="n25-5"><ellipse class="a" cx="292" rx="17.5" ry="22"/><use href="#R" x="292"/></g><g id="n25-6"><ellipse class="a" cx="344" rx="17.5" ry="22"/><use href="#R" x="344"/></g><g id="n25-7"><ellipse class="l" cx="396" rx="17.5" ry="22"/><use href="#Rk" x="396"/></g><g id="n25-8"><ellipse class="a" cx="448" rx="17.5" ry="22"/><use href="#R" x="448"/></g><g id="n25-9"><ellipse class="a" cx="500" rx="17.5" ry="22"/><use href="#R" x="500"/></g><g id="n25-10"><ellipse class="a" cx="552" rx="17.5" ry="22"/><use href="#R" x="552"/></g><g id="n25-11"><ellipse class="a" cx="604" rx="17.5" ry="22"/><use href="#R" x="604"/></g>
</g>
<g id="row26" transform="translate(0,1362)">
<g id="n26-1"><ellipse class="a" cx="84" rx="17.5" ry="22"/><use href="#L" x="84"/></g><g id="n26-2"><ellipse class="a" cx="136" rx="17.5" ry="22"/><use href="#L" x="136"/></g><g id="n26-3"><ellipse class="a" cx="188" rx="17.5" ry="22"/><use href="#L" x="188"/></g><g id="n26-4"><ellipse class="a" cx="240" rx="17.5" ry="22"/><use href="#L" x="240"/></g><g id="n26-5"><ellipse class="a" cx="292" rx="17.5" ry="22"/><use href="#L" x="292"/></g><g id="n26-6"><ellipse class="a" cx="344" rx="17.5" ry="22"/><use href="#L" x="344"/></g><g id="n26-7"><ellipse class="a" cx="396" rx="17.5" ry="22"/><use href="#L" x="396"/></g><g id="n26-8"><ellipse class="a" cx="448" rx="17.5" ry="22"/><use href="#L" x="448"/></g><g id="n26-9"><ellipse class="a" cx="500" rx="17.5" ry="22"/><use href="#L" x="500"/></g><g id="n26-10"><ellipse class="a" cx="552" rx="17.5" ry="22"/><use href="#L" x="552"/></g><g id="n26-11"><ellipse class="a" cx="604" rx="17.5" ry="22"/><use href="#L" x="604"/></g>
</g>
<g id="row27" transform="translate(0,1414)">
<g id="n27-1"><ellipse class="a" cx="84" rx="17.5" ry="22"/><use href="#R" x="84"/></g><g id="n27-2"><ellipse class="a" cx="136" rx="17.5" ry="22"/><use href="#R" x="136"/></g><g id="n27-3"><ellipse class="a" cx="188" rx="17.5" ry="22"/><use href="#R" x="188"/></g><g id="n27-4"><ellipse class="a" cx="240" rx="17.5" ry="22"/><use href="#R" x="240"/></g><g id="n27-5"><ellipse class="a" cx="292" rx="17.5" ry="22"/><use href="#R" x="292"/></g><g id="n27-6"><ellipse class="a" cx="344" rx="17.5" ry="22"/><use href="#R" x="344"/></g><g id="n27-7"><ellipse class="a" cx="396" rx="17.5" ry="22"/><use href="#R" x="396"/></g><g id="n27-8"><ellipse class="a" cx="448" rx="17.5" ry="22"/><use href="#R" x="448"/></g><g id="n27-9"><ellipse class="a" cx="500" rx="17.5" ry="22"/><use href="#R" x="500"/></g><g id="n27-10"><ellipse class="a" cx="552" rx="17.5" ry="22"/><use href="#R" x="552"/></g><g id="n27-11"><ellipse class="a" cx="604" rx="17.5" ry="22"/><use href="#R" x="604"/></g>
</g>
</g>
<text class="wm" x="344" y="768">BRACELETBOOK.COM</text>
</svg>
